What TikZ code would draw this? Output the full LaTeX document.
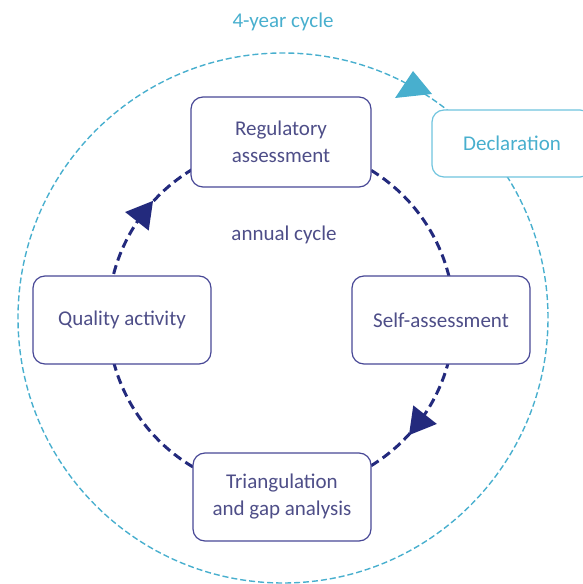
\documentclass[tikz,border=0pt]{standalone}
\usepackage{fontspec}
\setmainfont{Carlito}
\usetikzlibrary{decorations.markings}
\definecolor{loopnavy}{RGB}{35,42,125}
\definecolor{boxline}{RGB}{72,72,150}
\definecolor{boxtext}{RGB}{78,78,136}
\definecolor{yearblue}{RGB}{72,175,206}
\definecolor{declblue}{RGB}{112,196,222}
\begin{document}
\begin{tikzpicture}[x=1pt,y=1pt, every node/.style={font=\fontsize{21}{27}\selectfont},
  stage/.style={draw=boxline,line width=1.2pt,fill=white,rounded corners=12pt,minimum width=178pt,minimum height=88pt,align=center,text=boxtext,inner sep=0pt},
  cwhead/.style={decoration={markings,mark=at position #1 with {\fill (-13,0) -- (13,15) -- (13,-15) -- cycle;}},postaction={decorate}}]
\useasboundingbox (0,0) rectangle (582,584);
\coordinate (hub) at (281,266);
\coordinate (outerhub) at (283,266);
% 4-year loop
\draw[yearblue,line width=1.4pt,dash pattern=on 6pt off 3pt] (outerhub) circle[radius=265];
\fill[yearblue] (413,513) -- (395,486) -- (432,490) -- cycle;
% annual loop, heads going clockwise
\draw[loopnavy,line width=3pt,dash pattern=on 9pt off 5pt,cwhead=0.394] (hub) circle[radius=173];
\path[loopnavy,cwhead=0.894] (hub) circle[radius=173];
\node[stage,minimum width=180pt,minimum height=90pt] (reg) at (281,442) {Regulatory\\assessment};
\node[stage] (self) at (441,264) {Self-assessment};
\node[stage] (qual) at (122,264) {Quality activity};
\node[stage] (tri) at (282,87) {Triangulation\\and gap analysis};
\node[draw=declblue,line width=1.2pt,fill=white,rounded corners=12pt,minimum width=160pt,minimum height=67pt,text=yearblue] (decl) at (512,440.5) {Declaration};
\node[text=boxtext] (annual) at (284,349) {annual cycle};
\node[text=yearblue] (fouryear) at (283,562) {4-year cycle};
\end{tikzpicture}
\end{document}
